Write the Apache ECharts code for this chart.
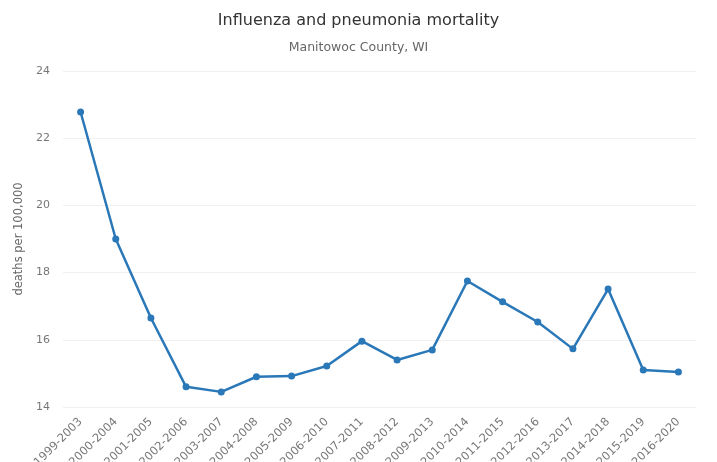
<!DOCTYPE html>
<html>
<head>
<meta charset="utf-8">
<script src="https://cdn.jsdelivr.net/npm/echarts@6/dist/echarts.min.js"></script>
<style>html,body{margin:0;padding:0;background:#fff;}#c{width:717px;height:462px;}</style>
</head>
<body>
<div id="c"></div>
<script>
const categories = ["1999-2003","2000-2004","2001-2005","2002-2006","2003-2007","2004-2008","2005-2009","2006-2010","2007-2011","2008-2012","2009-2013","2010-2014","2011-2015","2012-2016","2013-2017","2014-2018","2015-2019","2016-2020"];
const values = [22.78, 19.0, 16.65, 14.6, 14.45, 14.9, 14.92, 15.22, 15.96, 15.4, 15.7, 17.75, 17.13, 16.53, 15.73, 17.51, 15.1, 15.04];
const yTicks = {min: 14, max: 24, interval: 2};

const chart = echarts.init(document.getElementById('c'));
chart.setOption({
  animation: false,
  backgroundColor: '#fff',
  title: {
    text: 'Influenza and pneumonia mortality',
    subtext: 'Manitowoc County, WI',
    left: 'center',
    top: 8,
    itemGap: 12,
    textStyle: {fontFamily: 'DejaVu Sans', fontSize: 16, fontWeight: 'normal', color: '#333'},
    subtextStyle: {fontFamily: 'DejaVu Sans', fontSize: 12.5, color: '#666'}
  },
  grid: {left: 63, right: 21, top: 71, bottom: 55, containLabel: false, outerBoundsMode: 'none'},
  xAxis: {
    type: 'category',
    data: categories,
    boundaryGap: true,
    axisLine: {show: false},
    axisTick: {show: false},
    axisLabel: {rotate: 45, color: '#777', fontFamily: 'DejaVu Sans', fontSize: 11.5, margin: 13, interval: 0}
  },
  yAxis: {
    type: 'value',
    min: yTicks.min, max: yTicks.max, interval: yTicks.interval,
    name: 'deaths per 100,000',
    nameLocation: 'middle',
    nameGap: 32,
    nameTextStyle: {color: '#666', fontFamily: 'DejaVu Sans', fontSize: 11.5},
    axisLine: {show: false},
    axisTick: {show: false},
    axisLabel: {color: '#777', fontFamily: 'DejaVu Sans', fontSize: 11, margin: 13},
    splitLine: {lineStyle: {color: '#f0f0f0'}}
  },
  series: [{
    type: 'line',
    data: values,
    symbol: 'circle',
    symbolSize: 7,
    lineStyle: {color: '#2a78b8', width: 2.5},
    itemStyle: {color: '#2a78b8'}
  }]
});
</script>
</body>
</html>
